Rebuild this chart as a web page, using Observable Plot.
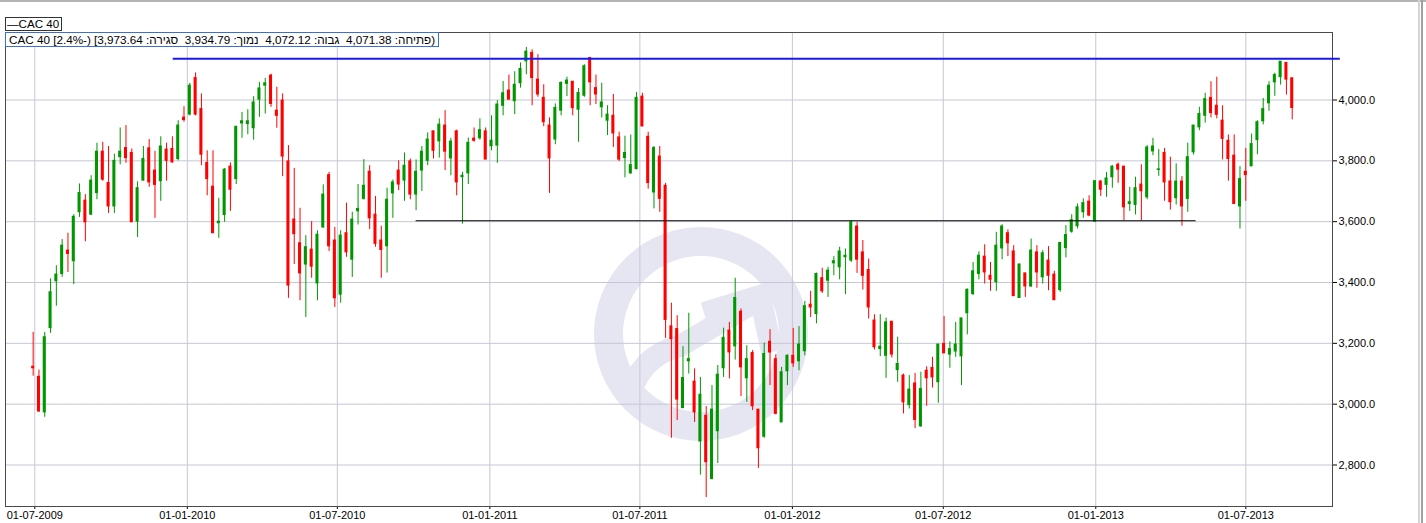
<!DOCTYPE html>
<html><head><meta charset="utf-8">
<script src="https://cdn.jsdelivr.net/npm/d3@7"></script>
<script src="https://cdn.jsdelivr.net/npm/@observablehq/plot@0.6"></script>
<style>
html,body{margin:0;padding:0;background:#fff;}
#wrap{position:relative;width:1426px;height:523px;overflow:hidden;background:#fff;font-family:"Liberation Sans",Arial,sans-serif;}
#wm{position:absolute;left:0;top:0;z-index:0;}
#chart{position:absolute;left:0;top:0;z-index:1;}
#topline{position:absolute;left:0;top:0;width:1426px;height:2px;background:#b4b4b4;z-index:2;}
#rl1{position:absolute;left:1418px;top:0;width:2px;height:523px;background:#d4d4d4;z-index:2;}
#rl2{position:absolute;left:1421px;top:0;width:2px;height:523px;background:#a0a0a0;z-index:2;}
#legend{position:absolute;left:5px;top:17px;height:12px;line-height:12px;border:1px solid #333;background:#fff;font-size:11.6px;padding:0 2px 0 1px;color:#000;z-index:3;white-space:pre;}
#info{position:absolute;left:5px;top:32px;height:13px;line-height:13px;border:1px solid #3a6fd8;background:#fff;font-size:11.7px;padding:0 3px;color:#000;z-index:3;white-space:pre;direction:ltr;}
</style></head><body>
<div id="wrap">
<svg id="wm" width="1426" height="523" viewBox="0 0 1426 523">
  <g fill="none" stroke="#e6e6f2">
    <circle cx="701" cy="334" r="92.5" stroke-width="29"/>
    <path d="M628 402 Q638 356 680 346 L758 300" stroke-width="22"/>
    <path d="M704 313 L760 296 L772 352" stroke-width="22" stroke-linejoin="miter"/>
  </g>
</svg>
<div id="chart"></div>
<div id="topline"></div><div id="rl1"></div><div id="rl2"></div>
<div id="legend">—CAC 40</div>
<div id="info"></div>
</div>
<script>
// Weekly CAC 40 candles, first week starting Monday 29-06-2009
const firstWeek = "2009-06-29";
const open = [3123,3090,2973,3250,3404,3428,3505,3470,3631,3669,3623,3694,3830,3727,3650,3812,3842,3826,3600,3735,
3841,3768,3733,3837,3839,3806,3942,3952,4072,3970,3793,3715,3595,3622,3781,3740,3923,3921,3907,4001,
4047,4080,3965,3998,3798,3607,3529,3459,3508,3397,3581,3753,3538,3360,3562,3475,3634,3675,3764,3623,
3538,3519,3693,3768,3735,3798,3689,3768,3800,3897,3864,3916,3808,3897,3746,3759,3873,3874,3897,3848,
3850,3981,4031,3996,4055,4127,4155,4067,4007,3916,3870,3965,4053,4060,3968,4014,4138,4039,3976,3932,
3948,3877,3809,3759,3773,4011,3879,3696,3814,3718,3256,3247,2987,3141,3074,2877,2962,2754,2911,3118,
3242,3190,3304,3085,3168,2982,2893,3205,3148,2940,3108,3159,3141,3174,3327,3296,3414,3406,3463,3450,
3483,3472,3584,3499,3441,3275,3181,3159,3271,3112,3094,2997,3068,2927,3110,3119,3072,3198,3163,3173,
3157,3299,3362,3428,3485,3422,3401,3512,3562,3502,3349,3430,3387,3499,3417,3472,3426,3375,3513,3567,
3585,3631,3666,3600,3732,3721,3746,3787,3781,3658,3655,3722,3680,3831,3770,3826,3732,3677,3732,3675,
3828,3910,3948,4007,3981,3932,3866,3817,3650,3764,3782,3868,3930,3989,4058,4075,4122,4071.38];
const high = [3236,3112,3236,3412,3455,3541,3562,3623,3724,3689,3751,3858,3861,3847,3822,3908,3916,3839,3731,3847,
3870,3831,3879,3858,3879,3932,3978,4055,4089,4020,3833,3833,3677,3775,3793,3912,3959,3968,4011,4058,
4071,4085,4042,4020,3850,3775,3644,3554,3600,3570,3721,3762,3581,3570,3661,3631,3722,3804,3784,3683,
3585,3710,3737,3800,3826,3806,3803,3847,3892,3897,3938,3965,3874,3901,3762,3875,3908,3938,3908,3948,
3998,4061,4082,4093,4122,4173,4165,4149,4050,3941,3987,4060,4075,4060,4038,4116,4140,4082,4055,3981,
4018,3894,3881,3885,4025,4022,3894,3847,3847,3726,3332,3291,3189,3299,3116,3088,2992,3061,3127,3250,
3269,3414,3313,3192,3176,2982,3201,3245,3162,3121,3162,3249,3255,3338,3371,3431,3447,3450,3485,3516,
3510,3603,3598,3538,3477,3294,3294,3283,3272,3220,3099,3094,3101,3105,3123,3154,3196,3288,3205,3269,
3282,3379,3466,3501,3524,3466,3565,3590,3573,3521,3461,3430,3543,3521,3505,3518,3437,3532,3587,3623,
3658,3675,3685,3735,3735,3762,3784,3793,3781,3713,3746,3787,3850,3874,3837,3841,3812,3790,3748,3858,
3916,3976,4022,4060,4075,3981,3885,3885,3781,3841,3888,3932,4005,4060,4088,4126,4122,4072.12];
const low = [3092,2973,2957,3233,3322,3417,3433,3393,3614,3534,3620,3672,3733,3627,3627,3787,3792,3598,3548,3733,
3713,3611,3667,3733,3792,3800,3927,3948,3948,3784,3685,3562,3545,3598,3634,3722,3874,3886,3868,3943,
3954,3976,3907,3748,3348,3459,3340,3285,3414,3340,3578,3502,3318,3332,3483,3417,3589,3671,3574,3516,
3414,3431,3611,3702,3667,3672,3636,3699,3784,3806,3809,3768,3751,3685,3592,3722,3861,3868,3804,3833,
3792,3948,4000,3952,4039,4083,3981,4009,3912,3693,3853,3948,4011,3948,3861,4009,3981,3985,3941,3883,
3844,3798,3744,3755,3770,3912,3707,3642,3631,3216,2888,2946,2987,3099,2940,2767,2693,2751,2805,3088,
3083,3145,3025,3006,2979,2789,2888,3061,2965,2940,3061,3121,3110,3159,3285,3264,3364,3351,3422,3409,
3360,3466,3430,3375,3280,3178,3156,3085,3152,3072,2968,2984,2920,2924,2993,3053,3003,3167,3118,3154,
3061,3228,3357,3409,3395,3371,3371,3475,3485,3355,3349,3351,3384,3381,3395,3373,3340,3368,3481,3562,
3576,3611,3616,3598,3683,3680,3710,3726,3603,3634,3622,3603,3672,3817,3749,3667,3638,3655,3585,3631,
3819,3899,3924,3941,3938,3803,3733,3658,3576,3667,3781,3820,3918,3963,4012,4049,4016,3934.79];
const close = [3118,2976,3220,3368,3426,3521,3494,3616,3694,3598,3735,3830,3738,3650,3800,3830,3809,3598,3710,3806,
3729,3721,3847,3800,3795,3916,3934,4047,3952,3820,3740,3562,3600,3771,3705,3912,3930,3930,3992,4038,
4055,3987,3948,3814,3390,3559,3430,3516,3452,3557,3689,3519,3348,3554,3499,3607,3642,3718,3611,3527,
3507,3672,3729,3722,3784,3689,3764,3830,3870,3833,3919,3830,3863,3729,3751,3859,3866,3901,3804,3866,
3985,4022,4001,4050,4102,4159,4072,4018,3927,3808,3974,4056,4064,3973,4023,4111,4058,4018,3992,3952,
3890,3804,3826,3786,4007,3913,3727,3842,3675,3277,3214,3015,3086,3148,2973,3031,2809,2982,3097,3218,
3170,3349,3121,3148,2993,2855,3165,3170,2968,3105,3159,3134,3196,3322,3318,3428,3371,3439,3470,3502,
3488,3598,3475,3422,3318,3187,3189,3269,3163,3132,3006,3048,2948,3050,3085,3088,3196,3167,3181,3196,
3282,3376,3437,3488,3433,3409,3521,3584,3529,3355,3459,3387,3505,3433,3496,3422,3342,3530,3556,3605,
3647,3661,3620,3733,3705,3742,3781,3771,3647,3664,3710,3700,3844,3847,3772,3729,3664,3732,3650,3812,
3916,3954,4003,3957,3951,3872,3806,3658,3740,3753,3855,3927,3970,4047,4082,4126,4067,3973.64];
const changePct = "2.4";

// Horizontal support / resistance levels drawn on the chart
const levelValues = [4136, 3603];
const levelStarts = ["2009-12-15", "2010-10-04"];
const levelEnds = ["2013-10-23", "2013-05-02"];

// Axis ticks
const xTickLabels = ["2009-07-01","2010-01-01","2010-07-01","2011-01-01","2011-07-01","2012-01-01","2012-07-01","2013-01-01","2013-07-01"];
const yTicks = [2800, 3000, 3200, 3400, 3600, 3800, 4000];

// Hebrew labels of the info line (open, high, low, close)
const infoLabels = ["פתיחה:", "גבוה:", "נמוך:", "סגירה:"];

const start = new Date(firstWeek + "T00:00:00Z");
const candles = open.map((o, i) => {
  const date = d3.utcMonday.offset(start, i);
  return {date, open: o, high: high[i], low: low[i], close: close[i],
          x1: d3.utcHour.offset(date, -44), x2: d3.utcHour.offset(date, 44),
          up: close[i] >= o};
});
const levels = levelValues.map((v, i) => ({value: v, start: new Date(levelStarts[i] + "T00:00:00Z"), end: new Date(levelEnds[i] + "T00:00:00Z")}));
const xTicks = xTickLabels.map(s => new Date(s + "T00:00:00Z"));

const UP = "#009600", DOWN = "#ff0000";

const chart = Plot.plot({
  width: 1426,
  height: 523,
  marginTop: 32,
  marginLeft: 5,
  marginRight: 94,
  marginBottom: 17,
  style: {background: "transparent", fontFamily: "'Liberation Sans', Arial, sans-serif", fontSize: "11px", color: "#000", overflow: "visible"},
  x: {type: "utc", domain: [new Date(Date.UTC(2009, 4, 26, 15, 36)), new Date(Date.UTC(2013, 9, 13, 14, 24))],
      ticks: xTicks, tickFormat: d3.utcFormat("%d-%m-%Y"), label: null, tickSize: 3, tickPadding: 2},
  y: {domain: [2663.6, 4221.9], ticks: yTicks, tickFormat: d3.format(",.1f"), label: null, axis: "right", tickSize: 4, tickPadding: 2},
  marks: [
    Plot.ruleX(xTicks, {stroke: "#c6c6d6", strokeWidth: 1}),
    Plot.ruleY(yTicks, {stroke: "#c6c6d6", strokeWidth: 1}),
    Plot.frame({stroke: "#4a4a4a"}),
    Plot.ruleX(candles, {x: "date", y1: "low", y2: "high", stroke: d => d.up ? UP : DOWN, strokeWidth: 1}),
    Plot.rect(candles, {x1: "x1", x2: "x2", y1: "open", y2: "close", fill: d => d.up ? UP : DOWN, insetTop: -0.5, insetBottom: -0.5}),
    Plot.ruleY(levels.slice(1), {y: "value", x1: "start", x2: "end", stroke: "#000", strokeWidth: 1.2}),
    Plot.ruleY(levels.slice(0, 1), {y: "value", x1: "start", x2: "end", stroke: "#1a1af0", strokeWidth: 2})
  ]
});
document.getElementById("chart").appendChild(chart);

// Info line, built in visual (left-to-right) order with isolated Hebrew labels
const last = candles[candles.length - 1];
const f = d3.format(",.2f");
const info = document.getElementById("info");
const parts = [
  ["t", `CAC 40 [${changePct}%-) [${f(last.close)} `], ["h", infoLabels[3]],
  ["t", `  ${f(last.low)} `], ["h", infoLabels[2]],
  ["t", `  ${f(last.high)} `], ["h", infoLabels[1]],
  ["t", `  ${f(last.open)} `], ["h", infoLabels[0]],
  ["t", ")"]
];
for (const [kind, text] of parts) {
  if (kind === "t") info.appendChild(document.createTextNode(text));
  else { const b = document.createElement("bdi"); b.dir = "rtl"; b.textContent = text; info.appendChild(b); }
}
</script>
</body></html>
